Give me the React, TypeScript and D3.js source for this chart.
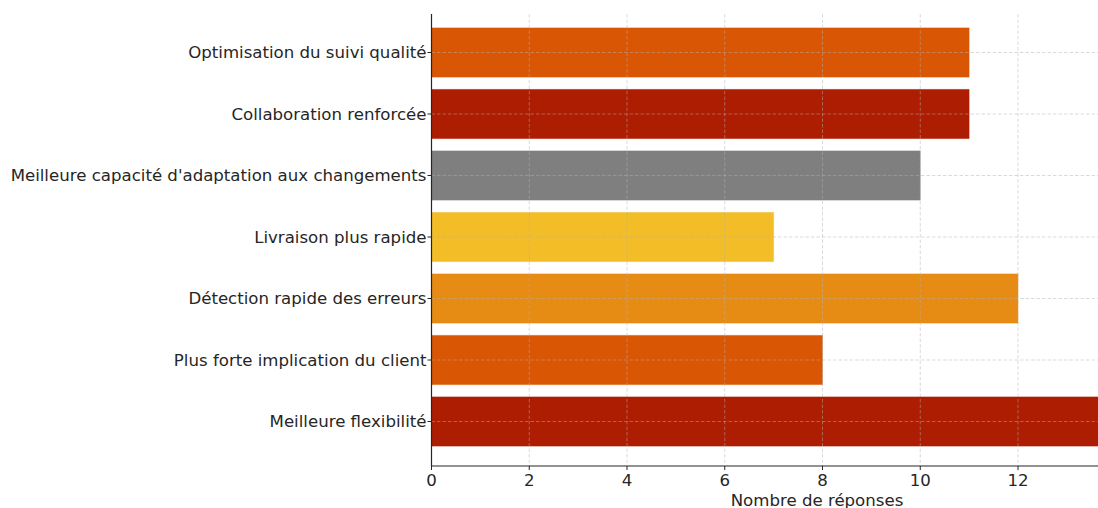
import React from "react";
import * as d3 from "d3";

const categories = [
  "Optimisation du suivi qualité",
  "Collaboration renforcée",
  "Meilleure capacité d'adaptation aux changements",
  "Livraison plus rapide",
  "Détection rapide des erreurs",
  "Plus forte implication du client",
  "Meilleure flexibilité",
];
const responses = [11, 11, 10, 7, 12, 8, 14];
const barColors = ["#D95604", "#AD1D02", "#7F7F7F", "#F3BD27", "#E68B14", "#D95604", "#AD1D02"];
const xTicks = [0, 2, 4, 6, 8, 10, 12, 14];

const W = 1098;
const H = 508;
const axisTop = 14;
const axisBottom = 466;
const axisLeft = 431.5;
const font = "DejaVu Sans, sans-serif";
const fs = 16.6;

export default function App() {
  const x = d3.scaleLinear().domain([0, 12]).range([axisLeft, 1018]);
  const y = d3.scaleLinear().domain([0, categories.length - 1]).range([52.5, 421.5]);
  const step = y(1) - y(0);
  const barH = step * 0.8;
  const gridCol = "#b0b0b0";

  return (
    <svg width={W} height={H} style={{ position: "absolute", left: 0, top: 0, background: "#fff" }}>
      <defs>
        <clipPath id="plot">
          <rect x={axisLeft} y={axisTop} width={W - axisLeft} height={axisBottom - axisTop} />
        </clipPath>
      </defs>
      <g clipPath="url(#plot)">
        {categories.map((c, i) => (
          <rect
            key={c}
            x={x(0)}
            y={y(i) - barH / 2}
            width={x(responses[i]) - x(0)}
            height={barH}
            fill={barColors[i]}
            stroke={barColors[i]}
            strokeOpacity={0.4}
            strokeWidth={1}
          />
        ))}
        {xTicks.map((t) => (
          <line
            key={"gx" + t}
            x1={x(t)}
            x2={x(t)}
            y1={axisTop}
            y2={axisBottom}
            stroke={gridCol}
            strokeOpacity={0.6}
            strokeDasharray="3.5,2"
            strokeWidth={0.8}
          />
        ))}
        {categories.map((c, i) => (
          <line
            key={"gy" + c}
            x1={axisLeft}
            x2={W}
            y1={y(i)}
            y2={y(i)}
            stroke={gridCol}
            strokeOpacity={0.6}
            strokeDasharray="3.5,2"
            strokeWidth={0.8}
          />
        ))}
      </g>
      {/* spines */}
      <line x1={axisLeft} x2={axisLeft} y1={axisTop} y2={axisBottom} stroke="#262626" strokeWidth={1.2} />
      <line x1={axisLeft} x2={W} y1={axisBottom} y2={axisBottom} stroke="#262626" strokeWidth={1.2} />
      {/* x ticks */}
      {xTicks
        .filter((t) => x(t) <= W)
        .map((t) => (
          <g key={"xt" + t}>
            <line x1={x(t)} x2={x(t)} y1={axisBottom} y2={axisBottom + 4} stroke="#262626" strokeWidth={1} />
            <text x={x(t)} y={axisBottom + 20} textAnchor="middle" fontFamily={font} fontSize={fs} fill="#262626">
              {t}
            </text>
          </g>
        ))}
      {/* y ticks */}
      {categories.map((c, i) => (
        <g key={"yt" + c}>
          <line x1={axisLeft - 4} x2={axisLeft} y1={y(i)} y2={y(i)} stroke="#262626" strokeWidth={1} />
          <text
            x={axisLeft - 5}
            y={y(i)}
            dy="0.35em"
            textAnchor="end"
            fontFamily={font}
            fontSize={fs}
            fill="#262626"
          >
            {c}
          </text>
        </g>
      ))}
      <text x={817} y={506} textAnchor="middle" fontFamily={font} fontSize={fs} fill="#262626">
        Nombre de réponses
      </text>
    </svg>
  );
}
